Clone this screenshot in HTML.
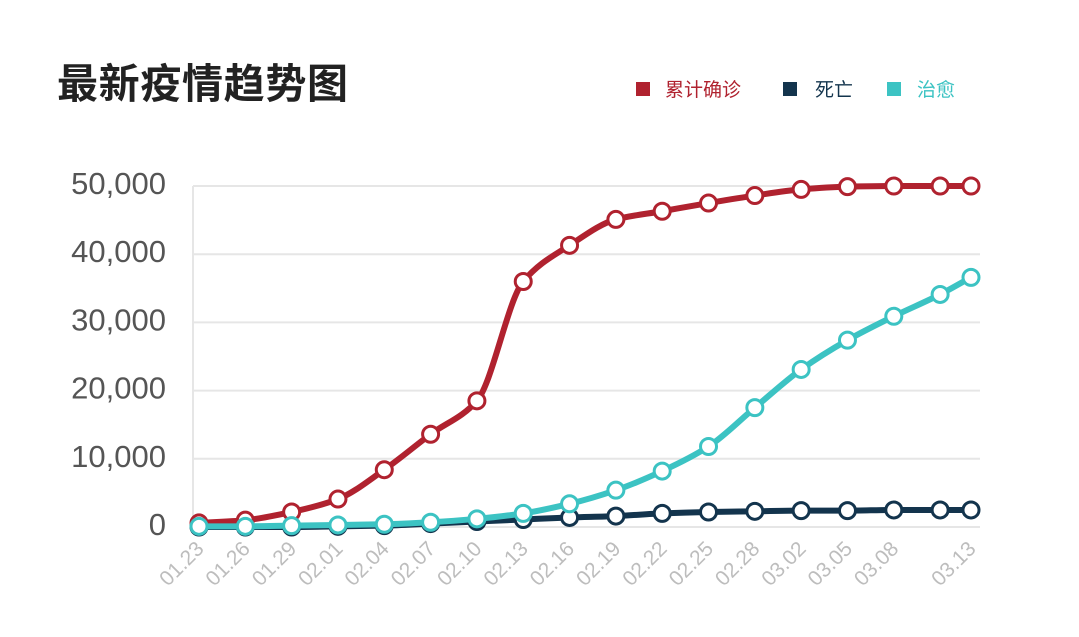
<!DOCTYPE html>
<html><head><meta charset="utf-8"><style>
body{margin:0;background:#fff;width:1079px;height:637px;overflow:hidden}
svg{display:block}
</style></head><body>
<svg width="1079" height="637" viewBox="0 0 1079 637" xmlns="http://www.w3.org/2000/svg">
<text x="57" y="98" font-family="Liberation Sans, Noto Sans CJK SC, sans-serif" font-weight="bold" font-size="41" fill="#222" textLength="291">最新疫情趋势图</text>
<g font-family="Liberation Sans, Noto Sans CJK SC, sans-serif" font-size="19">
<g><rect x="636" y="82" width="14" height="14" fill="#b0222f"/><text x="665" y="96" fill="#b0222f">累计确诊</text></g>
<g><rect x="783" y="82" width="14" height="14" fill="#13344d"/><text x="815" y="96" fill="#13344d">死亡</text></g>
<g><rect x="887" y="82" width="14" height="14" fill="#3cc3c3"/><text x="917" y="96" fill="#3cc3c3">治愈</text></g>
</g>
<g id="grid"></g>
<g id="yaxis"></g>
<g id="xaxis"></g>
<g id="series"></g>
</svg>
<script>
const days = [0,3,6,9,12,15,18,21,24,27,30,33,36,39,42,45,48,50];
const xLabels = ["01.23","01.26","01.29","02.01","02.04","02.07","02.10","02.13","02.16","02.19","02.22","02.25","02.28","03.02","03.05","03.08","","03.13"];
const confirmed = [600,1000,2200,4100,8400,13600,18500,36000,41300,45100,46300,47500,48600,49500,49900,50000,50000,50000];
const deaths = [0,0,0,100,200,500,800,1100,1400,1600,2000,2200,2300,2400,2400,2500,2500,2500];
const cured = [100,100,200,300,400,700,1200,2000,3400,5400,8200,11800,17500,23100,27400,30900,34100,36600];
const yTicks = [0,10000,20000,30000,40000,50000];
const yTickLabels = ["0","10,000","20,000","30,000","40,000","50,000"];

const X0=199, X1=971, D=50, Y0=527, Y1=186, VMAX=50000;
const xs=d=>X0+(X1-X0)*d/D;
const ys=v=>Y0-(Y0-Y1)*v/VMAX;
const NS="http://www.w3.org/2000/svg";
function mk(tag,attrs,parent){const e=document.createElementNS(NS,tag);for(const k in attrs)e.setAttribute(k,attrs[k]);parent.appendChild(e);return e;}
const grid=document.getElementById('grid'),yax=document.getElementById('yaxis'),xax=document.getElementById('xaxis'),ser=document.getElementById('series');
mk('line',{x1:193,x2:193,y1:Y1,y2:Y0,stroke:'#e6e6e6','stroke-width':2},grid);
yTicks.forEach((v,i)=>{
  const l=mk('line',{x1:193,x2:980,y1:ys(v),y2:ys(v),stroke:'#e6e6e6','stroke-width':2},grid);
  
  
  const t=mk('text',{x:166,y:ys(v)+8,'text-anchor':'end','font-family':'Liberation Sans, sans-serif','font-size':31,fill:'#555'},yax);
  t.textContent=yTickLabels[i];
  
  
});
days.forEach((d,i)=>{
  if(!xLabels[i])return;
  const x=xs(d)+6,y=550;
  const t=mk('text',{x:x,y:y,'text-anchor':'end','font-family':'Liberation Sans, sans-serif','font-size':21,fill:'#bdbdbd',transform:`rotate(-45 ${x} ${y})`},xax);
  t.textContent=xLabels[i];
  
  
});
function monotonePath(px,py){
  const n=px.length,dx=[],m=[],t=[];
  for(let i=0;i<n-1;i++){dx[i]=px[i+1]-px[i];m[i]=(py[i+1]-py[i])/dx[i];}
  t[0]=m[0];t[n-1]=m[n-2];
  for(let i=1;i<n-1;i++){
    if(m[i-1]*m[i]<=0)t[i]=0;
    else{const w1=2*dx[i]+dx[i-1],w2=dx[i]+2*dx[i-1];t[i]=(w1+w2)/(w1/m[i-1]+w2/m[i]);}
  }
  let p=`M${px[0]},${py[0]}`;
  for(let i=0;i<n-1;i++){const h=dx[i]/3;p+=` C${px[i]+h},${py[i]+t[i]*h} ${px[i+1]-h},${py[i+1]-t[i+1]*h} ${px[i+1]},${py[i+1]}`;}
  return p;
}
function drawSeries(vals,color,name){
  const g=mk('g',{},ser);
  
  
  const px=days.map(xs),py=vals.map(ys);
  const p=mk('path',{d:monotonePath(px,py),fill:'none',stroke:color,'stroke-width':6,'stroke-linejoin':'round'},g);
  
  
  px.forEach((x,i)=>{
    const c=mk('circle',{cx:x,cy:py[i],r:8,fill:'#fff',stroke:color,'stroke-width':3},g);
    
    
  });
}
drawSeries(confirmed,'#b0222f','confirmed');
drawSeries(deaths,'#13344d','death');
drawSeries(cured,'#3cc3c3','cured');
</script>
</body></html>
